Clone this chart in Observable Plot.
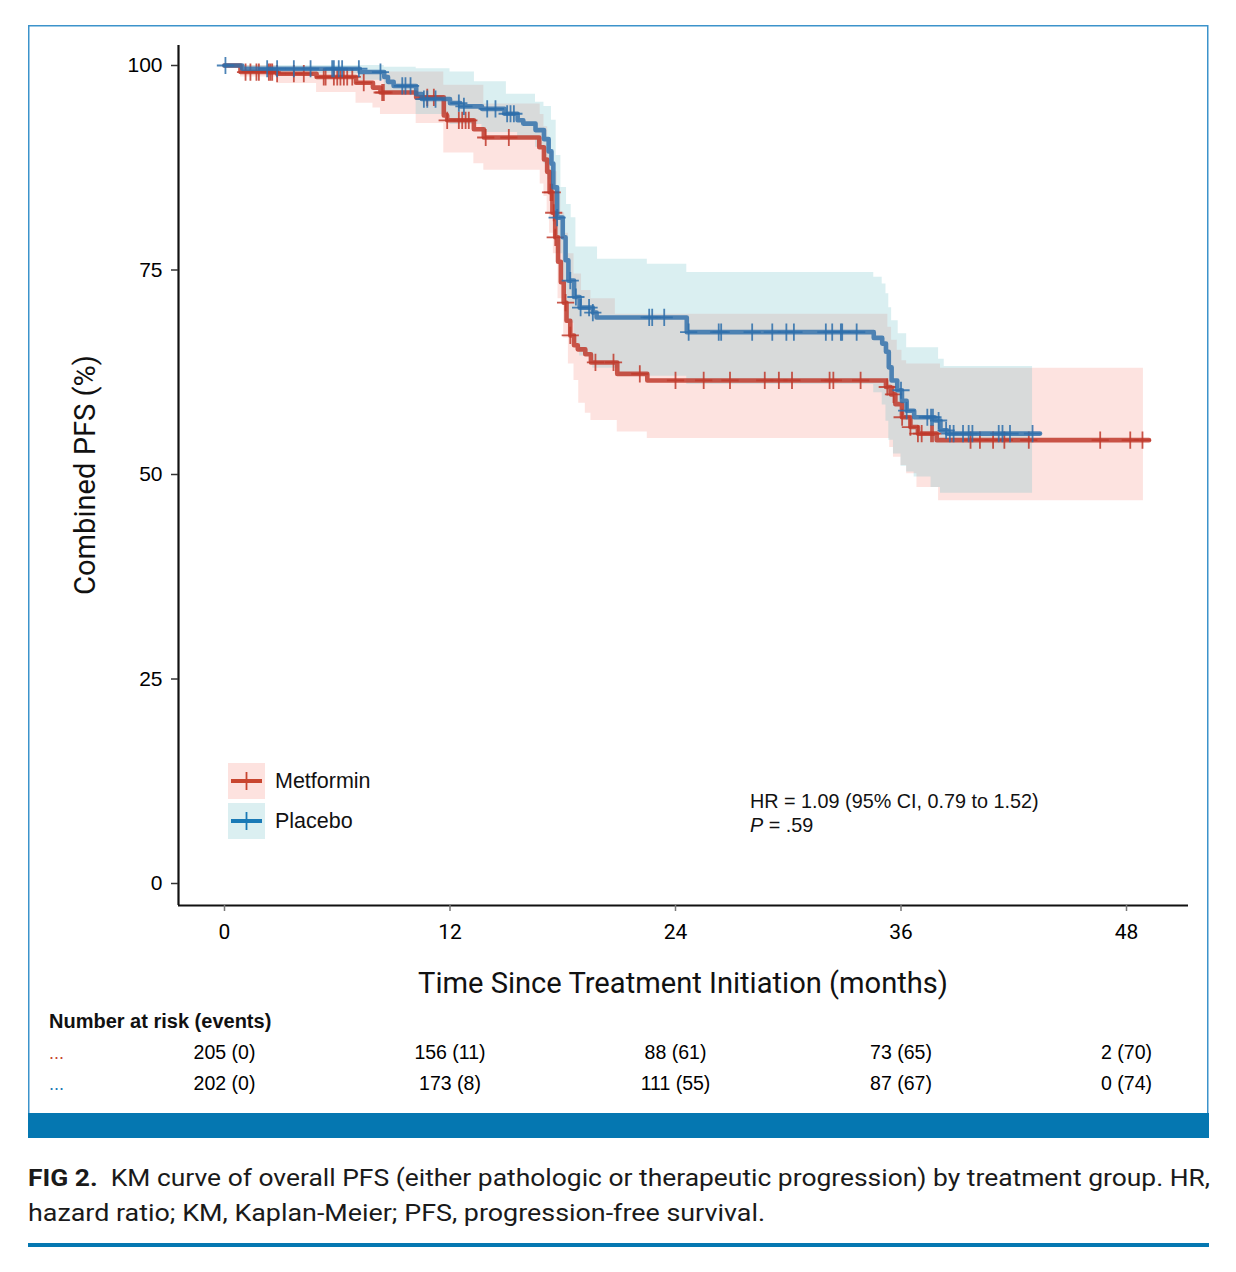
<!DOCTYPE html>
<html><head><meta charset="utf-8">
<script src="https://cdn.jsdelivr.net/npm/d3@7"></script>
<script src="https://cdn.jsdelivr.net/npm/@observablehq/plot@0.6"></script>
<style>
html,body{margin:0;padding:0;background:#fff;}
body{width:1236px;height:1272px;position:relative;overflow:hidden;font-family:"Liberation Sans",Arial,sans-serif;}
#chart{position:absolute;left:0;top:0;}
#ov{position:absolute;left:0;top:0;pointer-events:none;}
</style>
</head><body>
<div id="chart"></div>
<svg id="ov" width="1236" height="1272" xmlns="http://www.w3.org/2000/svg"></svg>
<script>
// ---------- data ----------
const groups = ["Metformin", "Placebo"];
const xTicks = [0, 12, 24, 36, 48];
const yTicks = [0, 25, 50, 75, 100];

// Kaplan-Meier step points (months, % PFS)
const metTime = [0, 0.85, 2.8, 4.9, 7.0, 7.9, 8.3, 10.2, 11.67, 11.85, 13.27, 13.8, 16.75, 17.0, 17.17, 17.3, 17.45, 17.6, 17.75, 17.9, 18.05, 18.2, 18.4, 18.6, 18.8, 19.2, 19.5, 20.9, 22.5, 35.2, 35.45, 35.7, 36.05, 36.5, 36.9, 37.9, 49.2];
const metSurv = [100, 99.2, 99.0, 98.6, 97.9, 97.3, 96.7, 96.1, 93.9, 93.3, 92.2, 91.2, 90.0, 88.5, 87.0, 84.5, 82.0, 79.0, 76.0, 73.5, 71.0, 68.8, 67.0, 65.8, 65.3, 64.7, 63.7, 62.3, 61.5, 60.7, 59.8, 58.6, 57.0, 55.8, 55.0, 54.2, 54.2];

const plaTime = [0, 0.94, 7.2, 8.5, 8.7, 9.0, 10.2, 10.5, 12.0, 12.55, 13.7, 14.9, 15.6, 15.9, 16.55, 17.0, 17.25, 17.4, 17.5, 17.7, 18.0, 18.15, 18.3, 18.6, 18.9, 19.6, 19.8, 24.6, 34.55, 35.0, 35.2, 35.35, 35.5, 35.8, 36.05, 36.3, 36.7, 37.8, 38.1, 38.45, 43.4];
const plaSurv = [100, 99.6, 99.2, 98.6, 98.0, 97.5, 96.5, 95.9, 95.4, 95.0, 94.7, 94.1, 93.3, 92.9, 92.1, 91.0, 89.5, 88.0, 85.1, 81.4, 79.0, 76.2, 73.7, 71.7, 70.4, 69.8, 69.2, 67.4, 66.7, 66.0, 65.0, 63.1, 61.5, 60.3, 59.0, 57.8, 57.0, 56.6, 55.4, 55.0, 55.0];

// 95% confidence bands (step points)
const metLoT = [0, 0.85, 2.8, 4.9, 7.0, 7.9, 8.3, 10.2, 11.67, 13.27, 13.8, 16.8, 17.0, 17.17, 17.3, 17.5, 17.75, 18.05, 18.3, 18.6, 18.85, 19.2, 19.5, 20.9, 22.5, 35.4, 35.6, 36.0, 36.3, 36.85, 38.0];
const metLoV = [100, 98.6, 97.8, 96.7, 95.4, 94.8, 94.0, 92.9, 89.3, 88.0, 87.2, 85.5, 84.0, 82.0, 79.5, 77.0, 71.5, 66.7, 63.5, 61.5, 58.7, 57.5, 56.6, 55.2, 54.4, 53.3, 52.1, 51.1, 50.1, 48.4, 46.8];
const metHiT = [0, 2.8, 4.9, 7.0, 7.9, 11.67, 13.8, 16.8, 17.0, 17.2, 17.35, 17.5, 17.7, 17.9, 18.1, 18.3, 18.6, 19.0, 19.5, 20.8, 35.3, 35.5, 35.8, 36.05, 36.3, 38.1];
const metHiV = [100, 99.8, 99.6, 99.4, 99.2, 97.6, 95.3, 94.0, 92.5, 91.0, 89.5, 87.0, 84.5, 82.0, 79.5, 77.0, 74.5, 72.5, 71.5, 69.6, 68.0, 66.4, 65.2, 63.9, 63.5, 63.0];
const metBandEnd = 48.9;

const plaLoT = [0, 0.94, 7.2, 8.5, 10.2, 12.0, 13.7, 15.6, 16.55, 17.0, 17.2, 17.4, 17.5, 17.7, 18.0, 18.15, 18.3, 18.6, 18.9, 19.6, 21.0, 24.6, 34.55, 35.0, 35.2, 35.35, 35.6, 36.0, 36.3, 36.7, 37.6, 38.1];
const plaLoV = [100, 99.0, 98.2, 96.5, 94.0, 92.8, 91.8, 91.0, 90.0, 88.0, 86.0, 84.0, 80.5, 77.0, 73.5, 71.0, 68.5, 66.0, 64.5, 63.0, 62.0, 61.0, 60.0, 58.5, 56.5, 54.2, 52.5, 51.0, 50.3, 49.7, 48.4, 47.7];
const plaHiT = [0, 8.5, 10.2, 12.0, 13.3, 15.0, 16.55, 17.0, 17.4, 17.65, 17.9, 18.2, 18.45, 18.7, 19.85, 22.5, 24.6, 34.55, 35.0, 35.2, 35.35, 35.5, 35.85, 36.3, 38.0, 38.3];
const plaHiV = [100, 99.8, 99.6, 99.2, 98.0, 96.5, 95.5, 95.0, 93.3, 89.0, 85.1, 83.0, 81.4, 77.8, 76.3, 75.7, 74.7, 74.1, 73.3, 72.1, 70.4, 68.8, 67.2, 65.5, 64.1, 63.2];
const plaBandEnd = 43.0;

// censoring times (months)
const metCensor = [1.12, 1.38, 1.70, 1.83, 2.36, 2.45, 2.54, 2.80, 3.69, 4.22, 5.28, 5.38, 5.82, 6.0, 6.17, 6.35, 6.53, 6.80, 7.41, 8.39, 8.48, 10.79, 11.14, 11.85, 12.47, 12.65, 12.83, 13.0, 13.9, 15.13, 17.35, 17.44, 17.52, 17.6, 18.15, 18.4, 19.74, 20.7, 22.1, 24.0, 25.5, 26.9, 28.75, 29.5, 30.2, 32.2, 32.4, 33.85, 35.27, 35.6, 36.06, 36.5, 36.9, 37.1, 37.6, 37.7, 39.7, 40.2, 40.9, 41.5, 42.8, 46.6, 48.2, 48.85];
const plaCensor = [0.05, 2.27, 2.80, 3.69, 4.58, 5.73, 5.82, 6.08, 6.26, 7.15, 8.30, 9.46, 9.63, 9.90, 10.61, 10.79, 11.23, 12.47, 12.74, 13.98, 14.42, 15.04, 15.22, 15.40, 17.7, 18.4, 18.7, 18.95, 19.4, 19.6, 22.6, 22.76, 23.4, 24.7, 26.3, 26.43, 28.08, 29.15, 29.9, 30.3, 32.0, 32.34, 32.8, 32.87, 33.64, 36.0, 36.3, 37.4, 37.6, 37.7, 38.0, 38.4, 38.6, 38.8, 39.3, 39.6, 39.8, 41.2, 41.4, 41.8, 43.0];

// number at risk (events)
const riskTimes = [0, 12, 24, 36, 48];
const metRisk = ["205 (0)", "156 (11)", "88 (61)", "73 (65)", "2 (70)"];
const plaRisk = ["202 (0)", "173 (8)", "111 (55)", "87 (67)", "0 (74)"];

const hrText = "HR = 1.09 (95% CI, 0.79 to 1.52)";
const pText = " = .59";

// ---------- styling ----------
const metLine = "#c0392b", plaLine = "#2e6eaa";
const metLegend = "#c84630", plaLegend = "#1a7ab6";
const metFill = "#f6877a", plaFill = "#6cbfc9";
const xDom = [-2.448, 51.299];
const yDom = [-2.689, 102.445];

// ---------- helpers ----------
function stepAt(T, V, t) {
  let v = V[0];
  for (let i = 0; i < T.length; i++) { if (T[i] <= t + 1e-9) v = V[i]; else break; }
  return v;
}
function band(loT, loV, hiT, hiV, end) {
  const ts = Array.from(new Set([...loT, ...hiT, end])).sort((a, b) => a - b).filter(t => t <= end);
  return ts.map(t => ({t, lo: stepAt(loT, loV, t), hi: stepAt(hiT, hiV, t)}));
}
const met = metTime.map((t, i) => ({t, s: metSurv[i]}));
const pla = plaTime.map((t, i) => ({t, s: plaSurv[i]}));
const metBand = band(metLoT, metLoV, metHiT, metHiV, metBandEnd);
const plaBand = band(plaLoT, plaLoV, plaHiT, plaHiV, plaBandEnd);

const chart = Plot.plot({
  width: 1236, height: 1100,
  marginLeft: 178, marginRight: 48, marginTop: 45, marginBottom: 195,
  x: {domain: xDom}, y: {domain: yDom},
  style: {fontFamily: "'Liberation Sans', Arial, sans-serif", background: "transparent", color: "#000", overflow: "visible"},
  marks: [
    Plot.areaY(metBand, {x: "t", y1: "lo", y2: "hi", curve: "step-after", fill: metFill, fillOpacity: 0.23}),
    Plot.areaY(plaBand, {x: "t", y1: "lo", y2: "hi", curve: "step-after", fill: plaFill, fillOpacity: 0.25}),
    Plot.line(met, {x: "t", y: "s", curve: "step-after", stroke: metLine, strokeWidth: 4.6, strokeOpacity: 0.85}),
    Plot.dot(metCensor, {x: d => d, y: d => stepAt(metTime, metSurv, d), symbol: "plus", r: 5.6, stroke: metLine, strokeWidth: 1.8, strokeOpacity: 0.85}),
    Plot.line(pla, {x: "t", y: "s", curve: "step-after", stroke: plaLine, strokeWidth: 4.6, strokeOpacity: 0.82}),
    Plot.dot(plaCensor, {x: d => d, y: d => stepAt(plaTime, plaSurv, d), symbol: "plus", r: 5.6, stroke: plaLine, strokeWidth: 1.8, strokeOpacity: 0.85}),
    Plot.ruleX([xDom[0]], {stroke: "#111", strokeWidth: 2.2}),
    Plot.ruleY([yDom[0]], {stroke: "#111", strokeWidth: 2.2}),
    Plot.axisY({ticks: yTicks, tickSize: 7, tickPadding: 9, fontSize: 21, label: null, stroke: "#333", strokeWidth: 1.5, fill: "#000"}),
    Plot.axisX({ticks: xTicks, tickSize: 6, tickPadding: 13, fontSize: 21, fontFamily: "Roboto", label: null, stroke: "#777", strokeWidth: 1.5, fill: "#000"}),
    Plot.text(riskTimes, {x: d => d, text: (d, i) => metRisk[i], frameAnchor: "bottom", dy: 153, fontSize: 19.5, fill: "#000"}),
    Plot.text(riskTimes, {x: d => d, text: (d, i) => plaRisk[i], frameAnchor: "bottom", dy: 184, fontSize: 19.5, fill: "#000"})
  ]
});
document.getElementById("chart").appendChild(chart);

// ---------- overlay: frame, titles, legend, annotations, caption ----------
const NS = "http://www.w3.org/2000/svg";
const ov = document.getElementById("ov");
function el(tag, attrs, parent = ov) {
  const e = document.createElementNS(NS, tag);
  for (const k in attrs) e.setAttribute(k, attrs[k]);
  parent.appendChild(e);
  return e;
}
function txt(content, attrs, parent = ov) { const t = el("text", attrs, parent); t.textContent = content; return t; }

el("rect", {x: 28.75, y: 25.75, width: 1179, height: 1100, fill: "none", stroke: "#3c93cb", "stroke-width": 1.5});
el("rect", {x: 28, y: 1113, width: 1181, height: 25, fill: "#0577b1"});
el("rect", {x: 28, y: 1243, width: 1181, height: 4, fill: "#0577b1"});

// axis titles
txt("Time Since Treatment Initiation (months)", {x: 418, y: 993, "font-family": "Roboto", "font-size": 29.5, fill: "#111", textLength: 530, lengthAdjust: "spacingAndGlyphs"});
txt("Combined PFS (%)", {transform: "translate(95,595) rotate(-90)", "font-family": "Roboto", "font-size": 29, fill: "#111", textLength: 240, lengthAdjust: "spacingAndGlyphs"});

// legend
const legendColors = [metLegend, plaLegend];
const legendFills = ["#fde2df", "#dbeff1"];
groups.forEach((g, i) => {
  const y0 = 763 + i * 40;
  el("rect", {x: 228, y: y0, width: 37, height: 36, fill: legendFills[i]});
  el("line", {x1: 231, x2: 262, y1: y0 + 18, y2: y0 + 18, stroke: legendColors[i], "stroke-width": 4});
  el("line", {x1: 246.5, x2: 246.5, y1: y0 + 9, y2: y0 + 27, stroke: legendColors[i], "stroke-width": 1.8});
  txt(g, {x: 275, y: y0 + 25, "font-size": 21.5, fill: "#111", "font-family": "'Liberation Sans', Arial, sans-serif"});
});

// HR annotation
txt(hrText, {x: 750, y: 808, "font-size": 19.8, fill: "#111", "font-family": "'Liberation Sans', Arial, sans-serif"});
const pt = el("text", {x: 750, y: 832, "font-size": 19.8, fill: "#111", "font-family": "'Liberation Sans', Arial, sans-serif", style: "white-space:pre"});
const p1 = el("tspan", {"font-style": "italic"}, pt); p1.textContent = "P";
const p2 = el("tspan", {}, pt); p2.textContent = pText;

// number at risk header and row markers
txt("Number at risk (events)", {x: 49, y: 1028, "font-size": 20, "font-weight": "bold", fill: "#111", "font-family": "'Liberation Sans', Arial, sans-serif"});
txt("...", {x: 49, y: 1059, "font-size": 18, fill: metLegend, "font-family": "'Liberation Sans', Arial, sans-serif"});
txt("...", {x: 49, y: 1090, "font-size": 18, fill: plaLegend, "font-family": "'Liberation Sans', Arial, sans-serif"});

// caption
const c1 = el("text", {x: 28, y: 1186, "font-family": "Roboto", "font-size": 23.5, fill: "#1a1a1a", style: "white-space:pre", textLength: 1182, lengthAdjust: "spacingAndGlyphs"});
const b1 = el("tspan", {"font-weight": "bold"}, c1); b1.textContent = "FIG 2.";
const r1 = el("tspan", {}, c1); r1.textContent = "  KM curve of overall PFS (either pathologic or therapeutic progression) by treatment group. HR,";
txt("hazard ratio; KM, Kaplan-Meier; PFS, progression-free survival.", {x: 28, y: 1221, "font-family": "Roboto", "font-size": 23.5, fill: "#1a1a1a", textLength: 737, lengthAdjust: "spacingAndGlyphs"});
</script>
</body></html>
